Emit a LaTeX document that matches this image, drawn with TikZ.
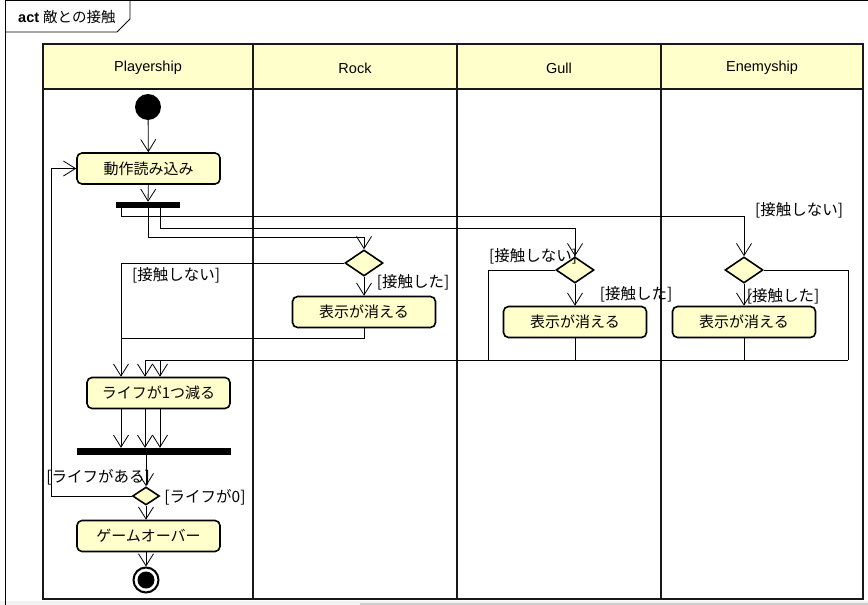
\documentclass[tikz,border=0pt]{standalone}
\usepackage{fontspec}
\setmainfont{Liberation Sans}
\newfontfamily\jpfont{Noto Sans CJK JP}
\usetikzlibrary{positioning, arrows.meta, shapes.geometric}

\definecolor{umlyellow}{RGB}{255,255,204}

\begin{document}
\begin{tikzpicture}[
    x=1pt, y=-1pt,
    lane/.style={line width=2.6pt, draw=black!90},
    lanename/.style={font=\fontsize{14.5}{17}\selectfont},
    action/.style={
        rectangle, rounded corners=5pt,
        draw, line width=1.6pt, fill=umlyellow,
        minimum width=143pt, minimum height=31pt,
        font=\jpfont\fontsize{15}{17}\selectfont
    },
    decision/.style={
        diamond, draw, line width=1.6pt, fill=umlyellow,
        minimum width=38pt, minimum height=26pt, inner sep=0pt
    },
    bar/.style={rectangle, fill=black, inner sep=0pt, minimum height=6pt},
    guard/.style={inner sep=0pt, font=\jpfont\fontsize{15.5}{17}\selectfont},
    flow/.style={
        line width=0.8pt,
        -{Straight Barb[length=12pt, width=15pt, line width=0.8pt]}
    },
    line/.style={line width=0.8pt}
]
    \useasboundingbox (0,0) rectangle (868,605);

    % Frame and title tab ===========================
    \fill[black!5] (0,601) rectangle (868,605);
    \fill[black!20] (360,603) rectangle (868,605);
    \draw[line] (868,0.5) -- (5.5,0.5) -- (5.5,605);
    \draw[line] (5.5,32) -- (117,32) -- (130,19) -- (130,0.5);
    \node[anchor=west, inner sep=0pt, font=\fontsize{14.5}{16}\selectfont] (title) at (18,17)
        {\textbf{act} {\jpfont 敵との接触}};

    % The 4 Swimlanes ===========================
    \fill[umlyellow] (43,44) rectangle (863,89);
    \draw[lane] (43,44) rectangle (863,599);
    \draw[lane] (43,89) -- (863,89);
    \foreach \x in {253,457,661}
        \draw[lane] (\x,44) -- (\x,599);
    \node[lanename] (laneP) at (148,68) {Playership};
    \node[lanename] (laneR) at (355,68) {Rock};
    \node[lanename] (laneG) at (559,68) {Gull};
    \node[lanename] (laneE) at (762,68) {Enemyship};

    % Nodes ====================
    \node[circle, fill=black, minimum size=26pt, inner sep=0pt] (start) at (148,107) {};
    \node[action] (load) at (148.5,168.5) {動作読み込み};
    \node[bar, minimum width=64pt] (fork) at (148,205) {};

    \node[decision] (rockdec) at (364,263) {};
    \node[action] (rockhide) at (364,312) {表示が消える};
    \node[decision] (gulldec) at (575,270) {};
    \node[action] (gullhide) at (575,322) {表示が消える};
    \node[decision] (enemydec) at (744,270) {};
    \node[action] (enemyhide) at (744,322) {表示が消える};

    \node[action] (lifedown) at (158.5,393) {ライフが1つ減る};
    \node[bar, minimum width=154pt, minimum height=7pt] (join) at (154,451.5) {};
    \node[decision, minimum width=27pt, minimum height=18pt] (lifedec) at (146,496) {};
    \node[action] (gameover) at (148.5,536) {ゲームオーバー};
    \node[circle, draw, line width=2pt, fill=white, minimum size=25pt, inner sep=0pt,
        path picture={\fill[black] (path picture bounding box.center) circle (8.5pt);}] (final) at (146,580) {};

    % Merge points on the return lines
    \coordinate (rockmerge) at (121,338);
    \coordinate (gullmerge) at (488,360);
    \coordinate (enemymerge) at (848,360);

    % Connectors ====================
    \draw[flow] (start) -- (load);
    \draw[flow] (load) -- (fork);

    % From the fork to the three obstacles
    \draw[flow] ([xshift=-27pt]fork.south) -- ++(0,8.5) -| (enemydec.north);
    \draw[flow] ([xshift=12pt]fork.south) -- ++(0,20) -| (gulldec.north);
    \draw[flow] (fork.south) -- ++(0,29) -| (rockdec.north);

    % Rock
    \draw[flow] (rockdec.west) -| ([xshift=-37.5pt]lifedown.north);
    \draw[flow] (rockdec) -- (rockhide);
    \draw[line] (rockhide.south) |- (rockmerge);

    % Gull
    \draw[line] (gulldec.west) -| (gullmerge);
    \draw[flow] (gulldec) -- (gullhide);
    \draw[line] (gullhide.south) -- (gullhide.south |- gullmerge);
    \draw[flow] (gullmerge) -| ([xshift=1.5pt]lifedown.north);

    % Enemyship
    \draw[line] (enemydec.east) -| (enemymerge);
    \draw[flow] (enemydec) -- (enemyhide);
    \draw[line] (enemyhide.south) -- (enemyhide.south |- enemymerge);
    \draw[flow] (enemymerge) -| ([xshift=-13.5pt]lifedown.north);

    % Life check
    \foreach \s in {-37.5,-13.5,1.5}
        \draw[flow] ([xshift=\s pt]lifedown.south) -- ([xshift=\s pt]lifedown.south |- join.north);
    \draw[flow] (join.south -| lifedec.north) -- (lifedec.north);
    \draw[flow] (lifedec.west) -- ++(-80,0) |- (load.west);
    \draw[flow] (lifedec.south) -- (lifedec.south |- gameover.north);
    \draw[flow] (gameover.south -| final.north) -- (final.north);

    % Guard labels ==================
    \node[guard] (rockno) at (176,275) {[接触しない]};
    \node[guard] (rockyes) at (413,282) {[接触した]};
    \node[guard] (gullno) at (533,256) {[接触しない]};
    \node[guard] (gullyes) at (636,294) {[接触した]};
    \node[guard] (enemyno) at (799,210) {[接触しない]};
    \node[guard] (enemyyes) at (783,296) {[接触した]};
    \node[guard] (lifeyes) at (98,477) {[ライフがある]};
    \node[guard] (lifezero) at (205,497) {[ライフが0]};

\end{tikzpicture}
\end{document}
